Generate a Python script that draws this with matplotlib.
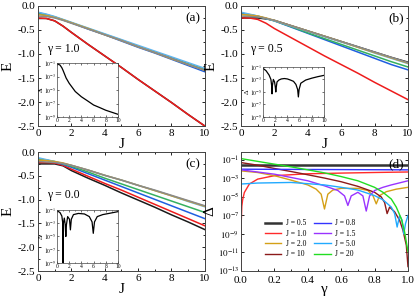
import numpy as np
import matplotlib
matplotlib.use('Agg')
import matplotlib.pyplot as plt
from matplotlib.ticker import AutoMinorLocator, LogLocator, NullLocator

plt.rcParams['font.family'] = ['Liberation Serif', 'DejaVu Serif']
plt.rcParams['mathtext.fontset'] = 'stix'

# ---- panels (a)-(c): energies vs J ----
J = [0, 0.5, 1, 1.5, 2, 3, 4, 5, 6, 7, 8, 9, 10]

# gamma = 1.0
a_black = [-0.26, -0.26, -0.31, -0.42, -0.55, -0.80, -1.04, -1.28, -1.53, -1.77, -2.01, -2.26, -2.50]
a_red = [-0.25, -0.26, -0.31, -0.42, -0.55, -0.80, -1.04, -1.28, -1.53, -1.77, -2.01, -2.26, -2.50]
a_blue = [-0.14, -0.18, -0.23, -0.29, -0.35, -0.48, -0.60, -0.73, -0.86, -0.98, -1.11, -1.24, -1.37]
a_green = [-0.16, -0.19, -0.23, -0.29, -0.35, -0.47, -0.59, -0.71, -0.84, -0.96, -1.08, -1.20, -1.32]
a_orange = [-0.18, -0.20, -0.24, -0.29, -0.35, -0.47, -0.60, -0.72, -0.85, -0.97, -1.10, -1.22, -1.34]
a_gray = [-0.21, -0.22, -0.25, -0.30, -0.36, -0.48, -0.60, -0.72, -0.85, -0.97, -1.09, -1.22, -1.34]
a_lblue = [-0.13, -0.17, -0.22, -0.28, -0.34, -0.46, -0.58, -0.70, -0.82, -0.94, -1.06, -1.18, -1.30]

# gamma = 0.5
b_black = [-0.25, -0.25, -0.25, -0.27, -0.30, -0.41, -0.52, -0.63, -0.74, -0.85, -0.96, -1.07, -1.17]
b_red = [-0.25, -0.25, -0.28, -0.36, -0.47, -0.66, -0.85, -1.04, -1.22, -1.40, -1.59, -1.77, -1.95]
b_blue = [-0.15, -0.18, -0.21, -0.26, -0.31, -0.44, -0.57, -0.70, -0.83, -0.96, -1.09, -1.22, -1.33]
b_green = [-0.17, -0.19, -0.22, -0.26, -0.31, -0.43, -0.56, -0.68, -0.80, -0.92, -1.04, -1.16, -1.27]
b_orange = [-0.18, -0.19, -0.21, -0.25, -0.30, -0.41, -0.52, -0.63, -0.74, -0.86, -0.97, -1.08, -1.19]
b_gray = [-0.21, -0.22, -0.23, -0.26, -0.30, -0.41, -0.52, -0.63, -0.74, -0.85, -0.96, -1.07, -1.18]
b_lblue = [-0.13, -0.17, -0.21, -0.26, -0.31, -0.42, -0.53, -0.64, -0.75, -0.86, -0.98, -1.09, -1.20]

# gamma = 0.0
c_black = [-0.25, -0.25, -0.25, -0.29, -0.39, -0.55, -0.70, -0.86, -1.01, -1.16, -1.32, -1.47, -1.63]
c_red = [-0.22, -0.22, -0.23, -0.28, -0.36, -0.51, -0.66, -0.80, -0.95, -1.10, -1.25, -1.40, -1.55]
c_blue = [-0.14, -0.17, -0.21, -0.26, -0.32, -0.455, -0.59, -0.725, -0.86, -0.995, -1.13, -1.265, -1.40]
c_green = [-0.15, -0.17, -0.20, -0.25, -0.30, -0.42, -0.55, -0.67, -0.79, -0.91, -1.03, -1.15, -1.27]
c_orange = [-0.17, -0.18, -0.20, -0.23, -0.28, -0.38, -0.49, -0.59, -0.70, -0.81, -0.92, -1.03, -1.14]
c_gray = [-0.20, -0.21, -0.22, -0.24, -0.28, -0.38, -0.49, -0.59, -0.70, -0.80, -0.91, -1.02, -1.13]
c_lblue = [-0.12, -0.16, -0.20, -0.24, -0.28, -0.38, -0.49, -0.59, -0.70, -0.81, -0.92, -1.04, -1.15]

# ---- insets: gap vs J ----
ia_J = [0, 0.5, 0.8, 1, 1.5, 2, 3, 4, 5, 6, 7, 8, 9, 10]
ia_gap = [8e-2, 5e-2, 2e-2, 8e-3, 6e-4, 1e-4, 6e-6, 1e-6, 2.5e-7, 6e-8, 2.5e-8, 1e-8, 5e-9, 2.5e-9]

ib_J = [0, 0.5, 1.0, 1.3, 1.42, 1.48, 1.54, 1.7, 1.9, 2.03, 2.1, 2.17, 2.3, 2.6, 3.0, 3.5, 4.0, 4.5,
        5.0, 5.4, 5.68, 5.8, 5.92, 6.2, 7, 8, 9, 10]
ib_gap = [6e-2, 2.5e-2, 5e-3, 1e-3, 1e-4, 5e-6, 1e-4, 1e-3, 4e-4, 5e-5, 1e-5, 5e-5, 4e-4, 8e-4, 1.2e-3,
          1.4e-3, 1.2e-3, 8e-4, 5e-4, 1.6e-4, 2.5e-5, 1.6e-6, 2.5e-5, 2.5e-4, 8e-4, 1.6e-3, 2.8e-3, 4.5e-3]

ic_J = [0, 0.5, 0.8, 0.95, 1.0, 1.05, 1.2, 1.35, 1.45, 1.55, 1.75, 2.05, 2.2, 2.35, 2.7, 3.5, 4.5,
        5.3, 5.75, 5.95, 6.15, 6.6, 7.5, 8.5, 10]
ic_gap = [8e-2, 4e-2, 1.2e-2, 1e-3, 3e-10, 1e-3, 6e-3, 6e-4, 1e-5, 6e-4, 1e-2, 4e-3, 1e-4, 4e-3, 2e-2,
          3e-2, 2.5e-2, 1e-2, 1.6e-3, 3e-5, 1.6e-3, 1e-2, 2e-2, 3e-2, 5.6e-2]

# ---- panel (d): gap vs gamma ----
d_labels = ['J = 0.5', 'J = 1.0', 'J = 2.0', 'J = 10', 'J = 0.8', 'J = 1.5', 'J = 5.0', 'J = 20']
g05 = [0.0, 0.5, 1.0]
d05 = [2.7e-2, 2.7e-2, 2.7e-2]
g08 = [0.0, 0.5, 1.0]
d08 = [1.0e-2, 9.2e-3, 8.5e-3]
g10 = [0.0, 0.001, 0.005, 0.01, 0.02, 0.05, 0.1, 0.2, 0.4, 0.6, 0.8, 1.0]
d10 = [1e-13, 1e-8, 1e-6, 5e-6, 3e-5, 2.5e-4, 8.5e-4, 2e-3, 3.2e-3, 3.8e-3, 4.4e-3, 5e-3]
g20 = [0.0, 0.1, 0.2, 0.3, 0.4, 0.45, 0.48, 0.5, 0.52, 0.55, 0.6, 0.7, 0.76, 0.79, 0.81, 0.83, 0.87, 0.93, 1.0]
d20 = [6.6e-3, 4.4e-3, 2e-3, 6.6e-4, 2e-4, 7e-5, 2e-5, 5e-7, 2e-5, 5.6e-5, 8.5e-5, 8.5e-5, 5e-5, 1.4e-5,
       1.8e-6, 1.4e-5, 3.7e-5, 7e-5, 1.1e-4]
g15 = [0.0, 0.2, 0.4, 0.5, 0.58, 0.62, 0.64, 0.66, 0.7, 0.73, 0.75, 0.77, 0.8, 0.85, 0.9, 1.0]
d15 = [8.5e-3, 2.9e-3, 5.6e-4, 1.6e-4, 5e-5, 1.3e-5, 1.2e-6, 1.3e-5, 3.2e-5, 1.3e-5, 3e-7, 1.3e-5, 5e-5,
       1.1e-4, 2e-4, 5.6e-4]
g50 = [0.0, 0.1, 0.3, 0.5, 0.6, 0.7, 0.8, 0.85, 0.9, 0.92, 0.935, 0.95, 0.965, 0.975, 0.985, 1.0]
d50 = [2.5e-4, 3.2e-4, 3.7e-4, 2e-4, 1.1e-4, 5.6e-5, 1.4e-5, 5e-6, 8e-7, 1.6e-7, 5.6e-9, 1e-7, 3e-8,
       1e-9, 1.3e-8, 1e-7]
g100 = [0.0, 0.1, 0.2, 0.3, 0.4, 0.5, 0.6, 0.7, 0.8, 0.84, 0.86, 0.875, 0.89, 0.92, 0.95, 0.97, 0.99, 1.0]
d100 = [5.2e-2, 2.7e-2, 1.2e-2, 5.6e-3, 2.5e-3, 1.1e-3, 4.4e-4, 1.4e-4, 3.2e-5, 1e-5, 2.5e-6, 1.6e-7,
        8e-7, 2.5e-7, 3e-8, 2.5e-9, 6e-11, 3e-13]
g200 = [0.0, 0.1, 0.2, 0.3, 0.4, 0.5, 0.6, 0.7, 0.8, 0.85, 0.9, 0.93, 0.96, 0.98, 0.99, 1.0]
d200 = [0.14, 7e-2, 3.5e-2, 1.8e-2, 8.5e-3, 4e-3, 1.6e-3, 5.6e-4, 1.1e-4, 3.2e-5, 6e-6, 8e-7, 4.4e-8,
        1.6e-9, 1.4e-10, 1.2e-11]

col_black = '#1a1a1a'
col_red = '#ee1c1c'
col_blue = '#1f5fe0'
col_green = '#35b060'
col_orange = '#d4a020'
col_gray = '#8a8a8a'
col_lblue = '#5fb4ee'


def style_main(ax):
    ax.tick_params(direction='in', which='both', top=True, right=True, labelsize=8, pad=2,
                   length=2.5, width=0.6)
    ax.tick_params(which='minor', length=1.5)
    for s in ax.spines.values():
        s.set_linewidth(0.7)
        s.set_color('#444444')


def energy_panel(rect, vals, gtext, tag):
    ax = fig.add_axes(rect)
    blk, red, blu, grn, org, gry, lbl = vals
    ax.plot(J, blk, color=col_black, lw=1.1)
    ax.plot(J, red, color=col_red, lw=1.1)
    ax.plot(J, blu, color=col_blue, lw=1.1)
    ax.plot(J, grn, color=col_green, lw=1.1)
    ax.plot(J, lbl, color=col_lblue, lw=1.1)
    ax.plot(J, org, color=col_orange, lw=1.1)
    ax.plot(J, gry, color=col_gray, lw=1.1)
    ax.set_xlim(0, 10)
    ax.set_ylim(-2.5, 0.0)
    ax.set_xticks([0, 2, 4, 6, 8, 10])
    ax.set_yticks([-2.5, -2.0, -1.5, -1.0, -0.5, 0.0])
    ax.set_yticklabels(['-2.5', '-2.0', '-1.5', '-1.0', '-0.5', '0.0'])
    ax.xaxis.set_minor_locator(AutoMinorLocator(2))
    ax.yaxis.set_minor_locator(AutoMinorLocator(2))
    style_main(ax)
    ax.set_xlabel('J', fontsize=11, labelpad=0)
    ax.set_ylabel('E', fontsize=11, labelpad=2)
    ax.text(0.055, 0.64, gtext, transform=ax.transAxes, fontsize=8.5, va='center')
    ax.text(0.975, 0.95, tag, transform=ax.transAxes, fontsize=9.5, ha='right', va='top')
    return ax


def inset(rect, x, y):
    ax = fig.add_axes(rect)
    ax.semilogy(x, y, color='black', lw=0.9)
    ax.set_xlim(0, 10)
    ax.set_ylim(1e-9, 1e-1)
    ax.set_xticks([0, 2, 4, 6, 8, 10])
    ax.set_yticks([1e-9, 1e-7, 1e-5, 1e-3, 1e-1])
    ax.set_yticklabels([r'$10^{-9}$', r'$10^{-7}$', r'$10^{-5}$', r'$10^{-3}$', r'$10^{-1}$'])
    ax.yaxis.set_minor_locator(NullLocator())
    ax.xaxis.set_minor_locator(AutoMinorLocator(2))
    ax.tick_params(direction='in', which='both', top=True, right=True, labelsize=4, pad=1,
                   length=1.5, width=0.4)
    ax.tick_params(which='minor', length=1)
    for s in ax.spines.values():
        s.set_linewidth(0.5)
        s.set_color('#444444')
    ax.set_ylabel('Δ', fontsize=5, labelpad=0)
    return ax


fig = plt.figure(figsize=(4.15, 2.98), dpi=100)

energy_panel([0.0916, 0.577, 0.402, 0.403],
             [a_black, a_red, a_blue, a_green, a_orange, a_gray, a_lblue], 'γ = 1.0', '(a)')
energy_panel([0.5807, 0.577, 0.4024, 0.403],
             [b_black, b_red, b_blue, b_green, b_orange, b_gray, b_lblue], 'γ = 0.5', '(b)')
energy_panel([0.0916, 0.0906, 0.402, 0.3993],
             [c_black, c_red, c_blue, c_green, c_orange, c_gray, c_lblue], 'γ = 0.0', '(c)')

inset([0.1373, 0.6074, 0.147, 0.181], ia_J, ia_gap)
inset([0.6337, 0.6074, 0.147, 0.168], ib_J, ib_gap)
inset([0.1373, 0.1174, 0.147, 0.178], ic_J, ic_gap)

# panel (d)
axd = fig.add_axes([0.5807, 0.0906, 0.4024, 0.3993])
l05, = axd.semilogy(g05, d05, color='#333333', lw=1.8)
l10, = axd.semilogy(g10, d10, color='#ff2a2a', lw=1.0)
l20, = axd.semilogy(g20, d20, color='#d4a017', lw=1.0)
l100, = axd.semilogy(g100, d100, color='#8b1a1a', lw=1.0)
l08, = axd.semilogy(g08, d08, color='#3333ff', lw=1.0)
l15, = axd.semilogy(g15, d15, color='#9933ff', lw=1.0)
l50, = axd.semilogy(g50, d50, color='#22aaff', lw=1.0)
l200, = axd.semilogy(g200, d200, color='#22dd22', lw=1.0)
axd.set_xlim(0, 1.0)
axd.set_ylim(1e-13, 0.72)
axd.set_xticks([0.0, 0.2, 0.4, 0.6, 0.8, 1.0])
axd.set_yticks([1e-13, 1e-11, 1e-9, 1e-7, 1e-5, 1e-3, 1e-1])
axd.set_yticklabels([r'$10^{-13}$', r'$10^{-11}$', r'$10^{-9}$', r'$10^{-7}$', r'$10^{-5}$',
                     r'$10^{-3}$', r'$10^{-1}$'])
axd.yaxis.set_minor_locator(NullLocator())
axd.xaxis.set_minor_locator(AutoMinorLocator(2))
style_main(axd)
axd.tick_params(axis='y', labelsize=6.5, pad=1.5)
axd.tick_params(axis='x', pad=3.5)
axd.set_xlabel('γ', fontsize=11, labelpad=-1)
axd.set_ylabel('Δ', fontsize=11, labelpad=1)
axd.text(0.975, 0.95, '(d)', transform=axd.transAxes, fontsize=9.5, ha='right', va='top')
axd.legend([l05, l10, l20, l100, l08, l15, l50, l200], d_labels, ncol=2, fontsize=5.5,
           frameon=False, loc='lower left', bbox_to_anchor=(0.1, 0.05), handlelength=2.2,
           columnspacing=1.0, labelspacing=0.3, handletextpad=0.6)

fig.savefig('out.png', dpi=100)
